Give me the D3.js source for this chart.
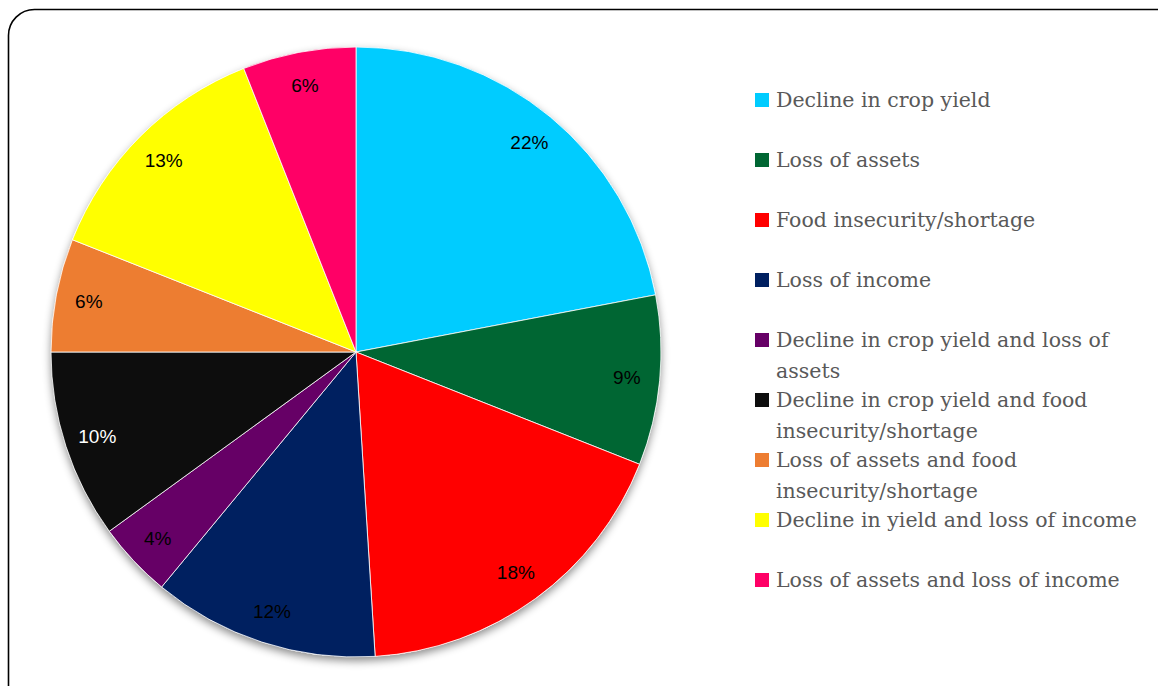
<!DOCTYPE html>
<html>
<head>
<meta charset="utf-8">
<script src="https://cdn.jsdelivr.net/npm/d3@7"></script>
<style>
  html, body { margin: 0; padding: 0; background: #fff; }
  svg { display: block; }
</style>
</head>
<body>
<svg id="chart" width="1158" height="686"></svg>
<script>
// Impacts reported by respondents (share of responses, %)
const categories = [
  "Decline in crop yield",
  "Loss of assets",
  "Food insecurity/shortage",
  "Loss of income",
  "Decline in crop yield and loss of assets",
  "Decline in crop yield and food insecurity/shortage",
  "Loss of assets and food insecurity/shortage",
  "Decline in yield and loss of income",
  "Loss of assets and loss of income"
];
const values = [22, 9, 18, 12, 4, 10, 6, 13, 6];
const colors = ["#00CCFF", "#006633", "#FF0000", "#002060", "#660066",
                "#0D0D0D", "#ED7D31", "#FFFF00", "#FF0066"];
const labelColors = ["#000", "#000", "#000", "#000", "#000",
                     "#fff", "#000", "#000", "#000"];

const svg = d3.select("#chart");

// Rounded frame, running off the right and bottom edges
svg.append("rect")
  .attr("x", 8.5).attr("y", 9.5)
  .attr("width", 1190).attr("height", 720)
  .attr("rx", 26).attr("ry", 26)
  .attr("fill", "#fff")
  .attr("stroke", "#000")
  .attr("stroke-width", 1.6);

const defs = svg.append("defs");
const shadow = defs.append("filter")
  .attr("id", "pieShadow")
  .attr("x", "-10%").attr("y", "-10%")
  .attr("width", "120%").attr("height", "125%");
shadow.append("feDropShadow")
  .attr("dx", 0).attr("dy", 4)
  .attr("stdDeviation", 4)
  .attr("flood-color", "#000")
  .attr("flood-opacity", 0.45);

const cx = 356, cy = 352, R = 305;
const data = categories.map((c, i) => ({ name: c, value: values[i], color: colors[i], lc: labelColors[i] }));

const pie = d3.pie().value(d => d.value).sort(null);
const arc = d3.arc().innerRadius(0).outerRadius(R);
const labelArc = d3.arc().innerRadius(272).outerRadius(272);
const arcs = pie(data);

const g = svg.append("g").attr("transform", `translate(${cx},${cy})`);

// Shadow layer under the slices
g.append("circle").attr("r", R).attr("fill", "#fff").attr("filter", "url(#pieShadow)");

g.selectAll("path.slice")
  .data(arcs)
  .join("path")
  .attr("class", "slice")
  .attr("d", arc)
  .attr("fill", d => d.data.color)
  .attr("stroke", "#fff")
  .attr("stroke-width", 0.8)
  .attr("stroke-linejoin", "round");

g.selectAll("text.pct")
  .data(arcs)
  .join("text")
  .attr("class", "pct")
  .attr("transform", d => `translate(${labelArc.centroid(d)})`)
  .attr("text-anchor", "middle")
  .attr("dy", "0.36em")
  .attr("font-family", "'Liberation Sans', Arial, sans-serif")
  .attr("font-size", 19)
  .attr("fill", d => d.data.lc)
  .text(d => d.data.value + "%");

// Legend
const legX = 755, legY0 = 100, legStep = 60, lineH = 31, wrapW = 372;
const legend = svg.append("g");
data.forEach((d, i) => {
  const y = legY0 + i * legStep;
  legend.append("rect")
    .attr("x", legX).attr("y", y - 7)
    .attr("width", 14).attr("height", 14)
    .attr("fill", d.color);
  const t = legend.append("text")
    .attr("x", legX + 21).attr("y", y)
    .attr("font-family", "'DejaVu Serif', 'Liberation Serif', serif")
    .attr("font-size", 20.5)
    .attr("fill", "#595959");
  const words = d.name.split(" ");
  let line = [];
  let tspan = t.append("tspan").attr("x", legX + 21).attr("dy", "0.35em");
  words.forEach(w => {
    line.push(w);
    tspan.text(line.join(" "));
    if (tspan.node().getComputedTextLength() > wrapW && line.length > 1) {
      line.pop();
      tspan.text(line.join(" "));
      line = [w];
      tspan = t.append("tspan").attr("x", legX + 21).attr("dy", lineH).text(w);
    }
  });
});
</script>
</body>
</html>
